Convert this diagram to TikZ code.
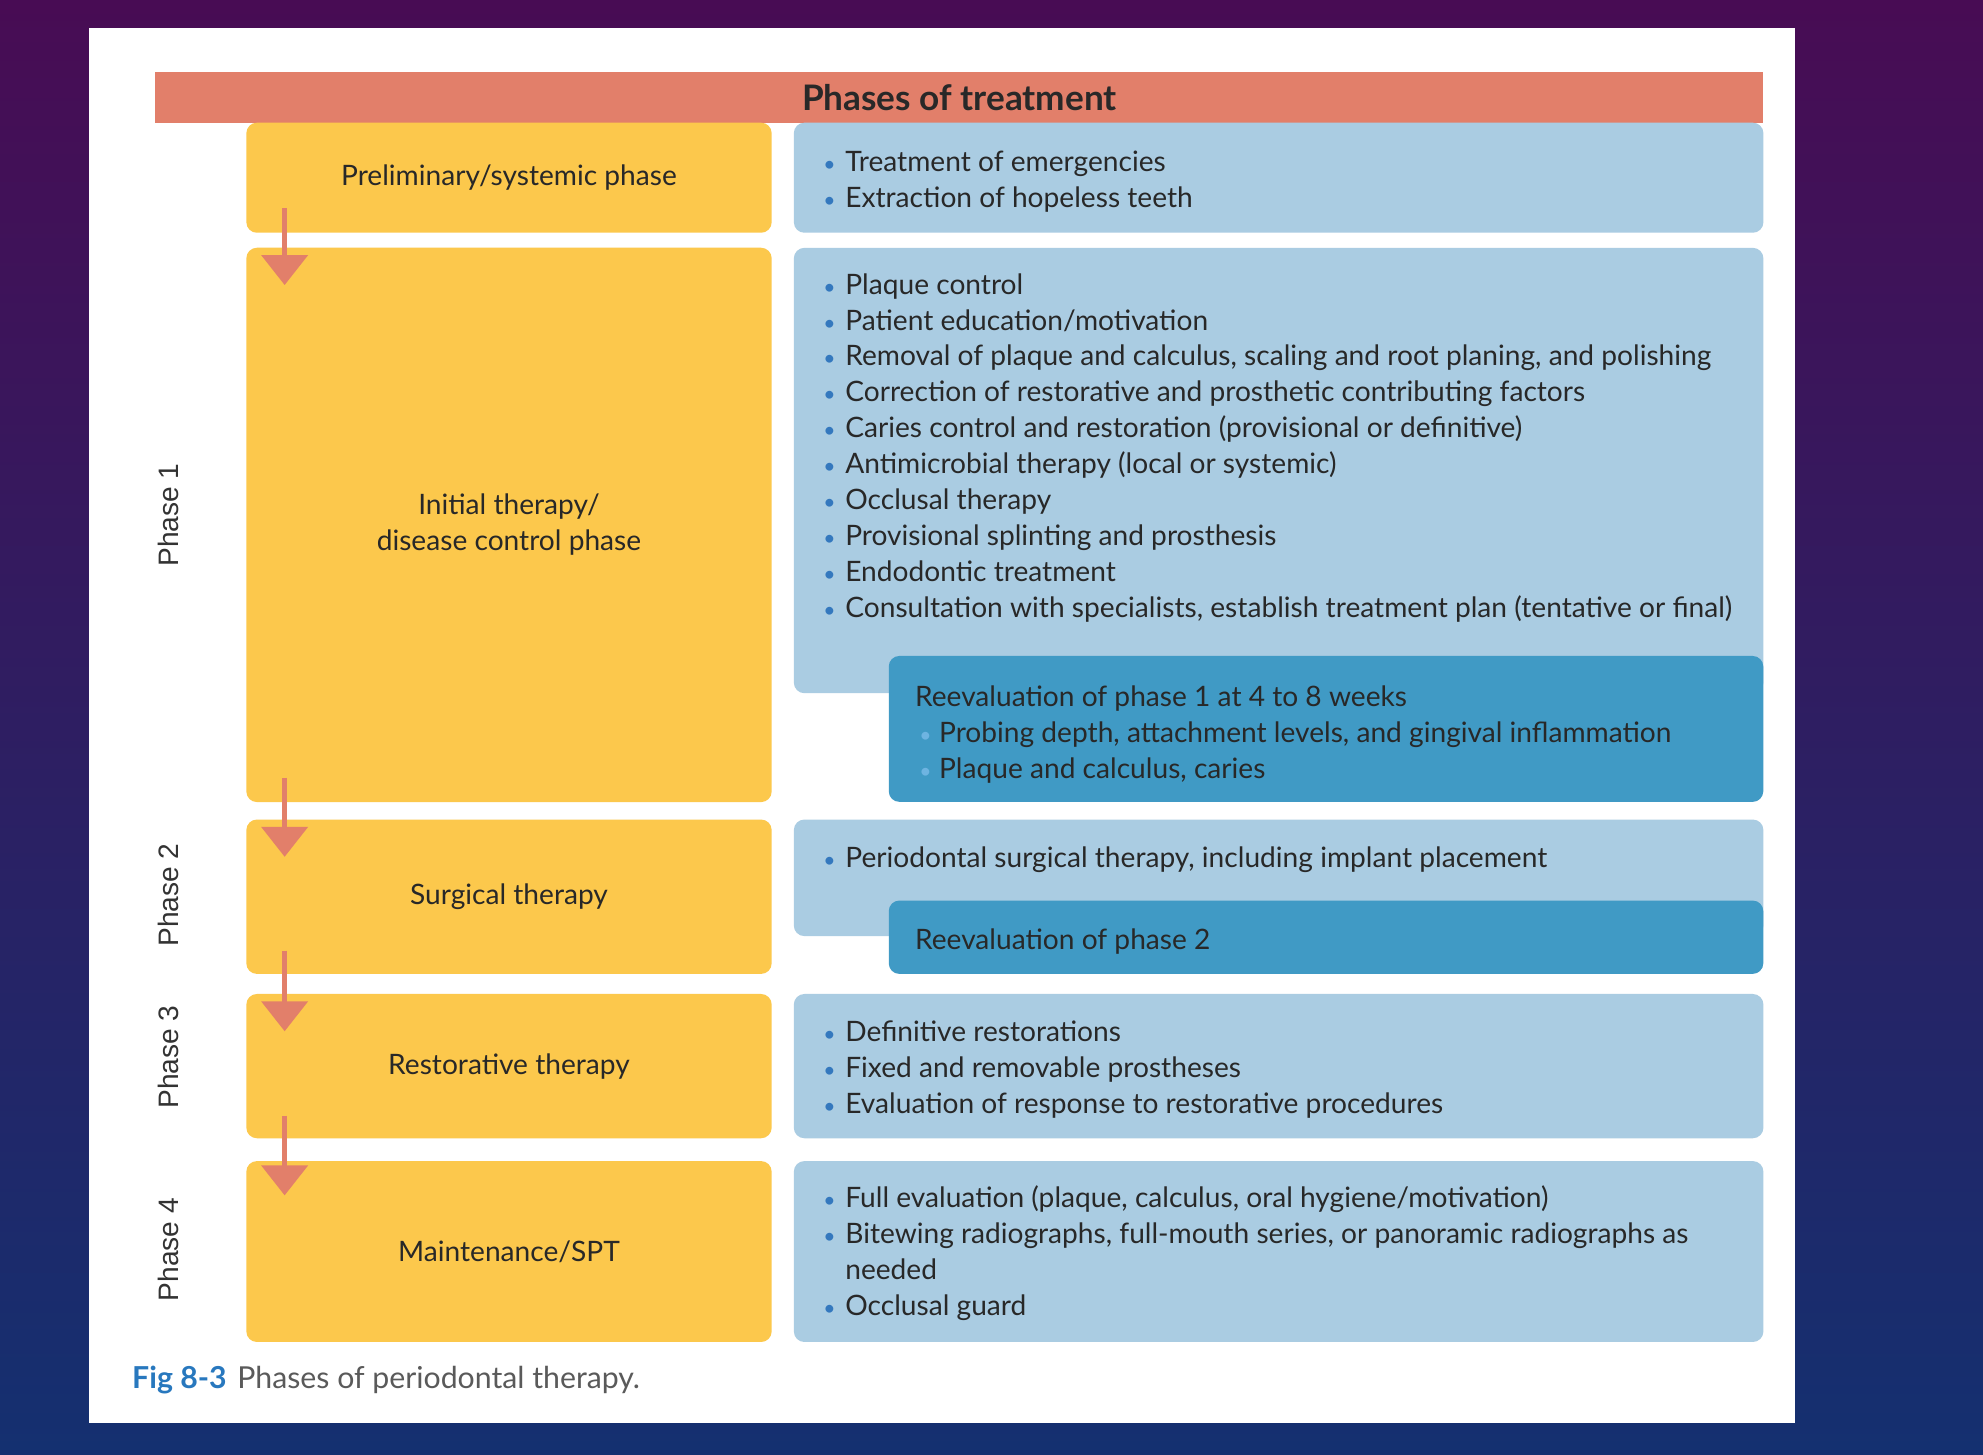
\documentclass[tikz,border=0pt]{standalone}
\usepackage{fontspec}
\usepackage{graphicx}
\setmainfont{Lato}
\newfontfamily\phasefont{Liberation Sans}
\usetikzlibrary{calc,arrows.meta}
\definecolor{bgtop}{RGB}{72,12,84}
\definecolor{bgmid}{RGB}{48,28,100}
\definecolor{bgbot}{RGB}{20,48,112}
\definecolor{headred}{RGB}{226,127,106}
\definecolor{phyellow}{RGB}{252,200,76}
\definecolor{phblue}{RGB}{170,204,226}
\definecolor{phdark}{RGB}{64,154,197}
\definecolor{dotblue}{RGB}{52,120,190}
\definecolor{dotlight}{RGB}{110,180,225}
\definecolor{txt}{RGB}{40,40,40}
\definecolor{figblue}{RGB}{40,120,190}
\definecolor{capgray}{RGB}{90,90,90}
\newcommand{\bul}{\makebox[2.2mm][l]{\textcolor{dotblue}{\scalebox{0.75}{\textbullet}}}}
\newcommand{\lbul}{\hspace*{0.43mm}\makebox[1.97mm][l]{\textcolor{dotlight}{\scalebox{0.75}{\textbullet}}}}

\begin{document}
\begin{tikzpicture}[x=0.01cm,y=-0.01cm,>=Latex,
  every node/.style={text=txt,font=\fontsize{8}{10.2}\selectfont},
  ybox/.style={fill=phyellow,rounded corners=3pt,minimum width=5.25cm,inner sep=0pt,align=center},
  bbox/.style={fill=phblue,rounded corners=3pt,minimum width=9.69cm,inner sep=0pt},
  dbox/.style={fill=phdark,rounded corners=3pt,minimum width=8.74cm,inner sep=0pt},
  list/.style={anchor=base west,align=left,inner sep=0pt},
  phase/.style={rotate=90,font=\phasefont\fontsize{8}{10}\selectfont,text=black!80},
  down/.style={-{Triangle[width=13pt,length=8.5pt]},line width=1.4pt,draw=headred}]
  % background and card
  \shade[top color=bgtop,middle color=bgmid,bottom color=bgbot] (0,0) rectangle (1983,1454);
  \useasboundingbox (0,0) rectangle (1983,1454);
  \fill[white] (88.5,27.8) rectangle (1794.6,1422.8);
  \node[fill=headred,minimum width=16.07cm,minimum height=0.507cm,inner sep=0pt,
    font=\bfseries\fontsize{10}{12}\selectfont] (head) at (959.3,97.35) {Phases of treatment};
  % left column
  \node[ybox,minimum height=1.10cm] (prelim) at (509,177.7) {Preliminary/systemic phase};
  \node[ybox,minimum height=5.54cm] (initial) at (509,524.9) {Initial therapy/\\disease control phase};
  \node[ybox,minimum height=1.543cm] (surg) at (509,896.7) {Surgical therapy};
  \node[ybox,minimum height=1.442cm] (resto) at (509,1066.1) {Restorative therapy};
  \node[ybox,minimum height=1.808cm] (maint) at (509,1251.5) {Maintenance/SPT};
  % right column
  \node[bbox,minimum height=1.10cm] (emerg) at (1278.6,177.7) {};
  \node[bbox,minimum height=4.451cm] (ctrl) at (1278.6,470.5) {};
  \node[dbox,minimum height=1.458cm] (reev1) at (1326,728.9) {};
  \node[bbox,minimum height=1.165cm] (surgtx) at (1278.6,877.8) {};
  \node[dbox,minimum height=0.733cm] (reev2) at (1326,937.2) {};
  \node[bbox,minimum height=1.442cm] (restx) at (1278.6,1066.1) {};
  \node[bbox,minimum height=1.808cm] (spt) at (1278.6,1251.5) {};
  % lists (base = last line)
  \node[list] (emergtxt) at (822.6,207) {\bul Treatment of emergencies\\
    \bul Extraction of hopeless teeth};
  \node[list] (ctrltxt) at (822.6,617) {\bul Plaque control\\
    \bul Patient education/motivation\\
    \bul Removal of plaque and calculus, scaling and root planing, and polishing\\
    \bul Correction of restorative and prosthetic contributing factors\\
    \bul Caries control and restoration (provisional or definitive)\\
    \bul Antimicrobial therapy (local or systemic)\\
    \bul Occlusal therapy\\
    \bul Provisional splinting and prosthesis\\
    \bul Endodontic treatment\\
    \bul Consultation with specialists, establish treatment plan (tentative or final)};
  \node[list] (reev1txt) at (914.4,778) {Reevaluation of phase 1 at 4 to 8 weeks\\
    \lbul Probing depth, attachment levels, and gingival inflammation\\
    \lbul Plaque and calculus, caries};
  \node[list] (surgtxt) at (822.6,867) {\bul Periodontal surgical therapy, including implant placement};
  \node[list] (reev2txt) at (914.4,949) {Reevaluation of phase 2};
  \node[list] (restxt) at (822.6,1113) {\bul Definitive restorations\\
    \bul Fixed and removable prostheses\\
    \bul Evaluation of response to restorative procedures};
  \node[list] (spttxt) at (822.6,1315.5) {\bul Full evaluation (plaque, calculus, oral hygiene/motivation)\\
    \bul Bitewing radiographs, full-mouth series, or panoramic radiographs as\\
    \hspace*{2.2mm}needed\\
    \bul Occlusal guard};
  % arrows between phases
  \draw[down] ($(prelim.south west)+(39,-25)$) -- ($(initial.north west)+(39,38)$);
  \draw[down] ($(initial.south west)+(39,-25)$) -- ($(surg.north west)+(39,38)$);
  \draw[down] ($(surg.south west)+(39,-24)$) -- ($(resto.north west)+(39,38)$);
  \draw[down] ($(resto.south west)+(39,-23)$) -- ($(maint.north west)+(39,35)$);
  % phase labels
  \node[phase] (ph1) at (168,515) {Phase 1};
  \node[phase] (ph2) at (168,895) {Phase 2};
  \node[phase] (ph3) at (168,1057) {Phase 3};
  \node[phase] (ph4) at (168,1249.5) {Phase 4};
  % caption
  \node[anchor=base west,inner sep=0pt,font=\fontsize{8.6}{11}\selectfont] (cap) at (131.5,1388)
    {\textcolor{figblue}{\bfseries Fig 8-3}\hspace{0.7ex}\textcolor{capgray}{Phases of periodontal therapy.}};
\end{tikzpicture}
\end{document}
